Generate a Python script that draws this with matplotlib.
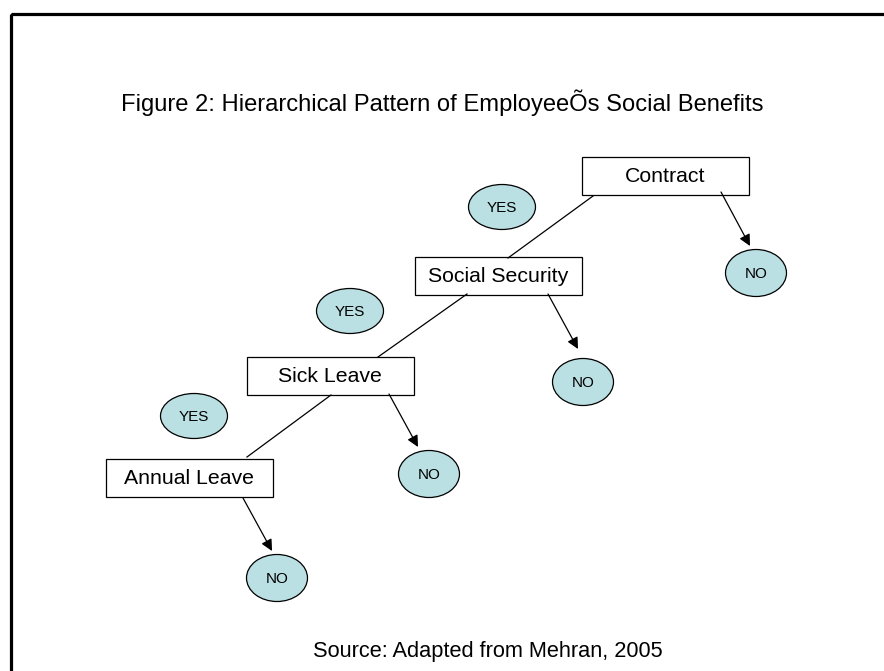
"""
plot.py - hierarchical pattern of employee's social benefits (decision tree diagram)
"""

import matplotlib
matplotlib.use("Agg")
import matplotlib.pyplot as plt
from matplotlib.patches import Rectangle, Ellipse

plt.rcParams["font.family"] = ["Liberation Sans", "DejaVu Sans"]

# DATA

title = "Figure 2: Hierarchical Pattern of Employee\u00d5s Social Benefits"
source = "Source: Adapted from Mehran, 2005"
benefits = ["Contract", "Social Security", "Sick Leave", "Annual Leave"]
yes_label = "YES"
no_label = "NO"

# LAYOUT (pixel coords, y down)

box_centers = [(665, 176), (498, 276), (330, 376), (189, 478)]
box_w, box_h = 167, 38
yes_centers = [(502, 207), (350, 311), (194, 416)]
no_centers = [(756, 273), (583, 382), (429, 474), (277, 578)]
ell_color = "#bbe0e3"

# yes-branch lines between boxes
yes_lines = [((593, 196), (508, 258)), ((467, 294), (378, 357)), ((331, 395), (247, 457))]
# arrows from boxes to NO
no_arrows = [((721, 192), (750, 246)), ((548, 294), (578, 349)),
             ((389, 394), (418, 447)), ((243, 498), (272, 551))]

W, H = 884, 671
fig = plt.figure(figsize=(W / 100, H / 100), dpi=100)
ax = fig.add_axes([0, 0, 1, 1])
ax.set_xlim(0, W)
ax.set_ylim(H, 0)
ax.axis("off")

# page frame (only top/left visible)
ax.add_patch(Rectangle((10.5, 14), W + 20, H + 20, fill=False, lw=2.3, ec="black"))

ax.text(442, 103, title, ha="center", va="center", fontsize=17.1)
ax.text(488, 652, source, ha="center", va="center", fontsize=15.7)

for label, (cx, cy) in zip(benefits, box_centers):
    ax.add_patch(Rectangle((cx - box_w / 2, cy - box_h / 2), box_w, box_h,
                           fc="white", ec="black", lw=0.9))
    ax.text(cx, cy + 1, label, ha="center", va="center", fontsize=15.3)

for (cx, cy) in yes_centers:
    ax.add_patch(Ellipse((cx, cy), 67, 45, fc=ell_color, ec="black", lw=0.9))
    ax.text(cx, cy + 1, yes_label, ha="center", va="center", fontsize=11)

for (cx, cy) in no_centers:
    ax.add_patch(Ellipse((cx, cy), 61, 47, fc=ell_color, ec="black", lw=0.9))
    ax.text(cx, cy + 1, no_label, ha="center", va="center", fontsize=11)

for (x0, y0), (x1, y1) in yes_lines:
    ax.plot([x0, x1], [y0, y1], color="black", lw=0.9)

for (x0, y0), (x1, y1) in no_arrows:
    ax.annotate("", xy=(x1, y1), xytext=(x0, y0),
                arrowprops=dict(arrowstyle="-|>", color="black", lw=0.9,
                                mutation_scale=17, shrinkA=0, shrinkB=0))

fig.savefig("out.png", dpi=100)
